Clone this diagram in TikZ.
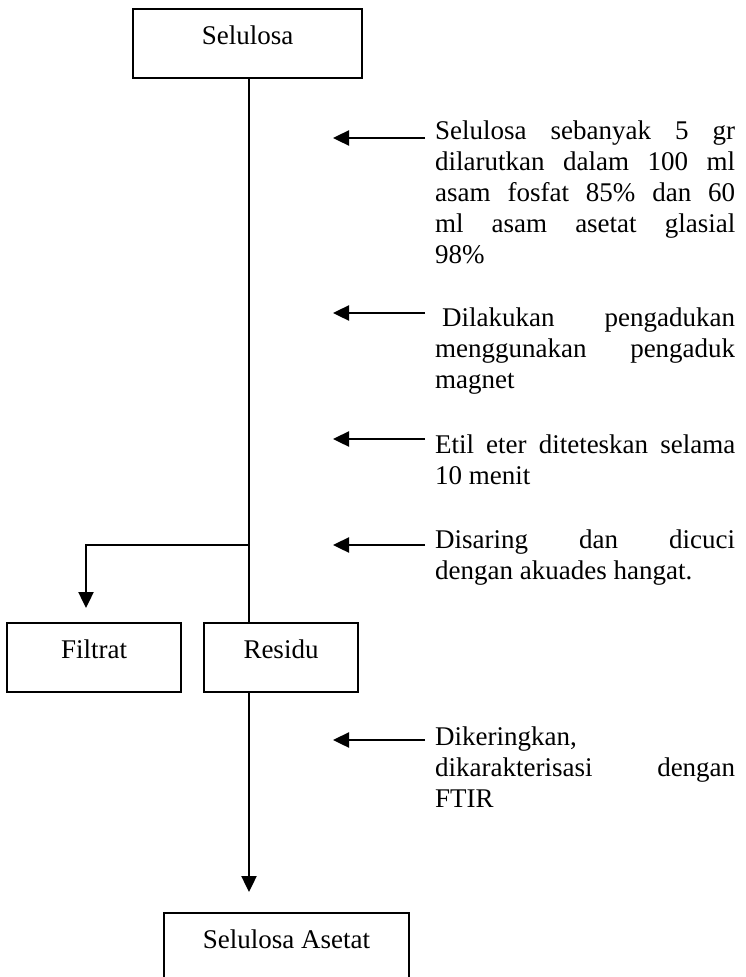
\documentclass[tikz,border=0pt]{standalone}
\usepackage{fontspec}
\setmainfont{Liberation Serif}
\usetikzlibrary{arrows.meta}

\tikzset{
  stage/.style={draw, line width=1.8pt, inner sep=0pt, text height=35pt, text depth=34pt,
    font=\fontsize{27}{31}\selectfont},
  flow/.style={line width=2.4pt},
  flowarrow/.style={flow, -{Triangle[length=16pt,width=15pt]}},
  note/.style={anchor=base west, inner sep=0pt, font=\fontsize{27}{31}\selectfont}
}

\newcommand{\notebox}[1]{\parbox[t]{300pt}{#1}}

\begin{document}
\begin{tikzpicture}[x=1pt,y=-1pt]
  \useasboundingbox (0,0) rectangle (745,977);

  % process boxes
  \node[stage, minimum width=229pt] (sel) at (247.5,43.5) {Selulosa};
  \node[stage, minimum width=174pt] (fil) at (94,657.5) {Filtrat};
  \node[stage, minimum width=154pt] (res) at (281,657.5) {Residu};
  \node[stage, minimum width=245pt] (ace) at (286.5,947.5) {Selulosa Asetat};

  % main flow line and branch to the filtrate
  \coordinate (split) at (249,545);
  \coordinate (ftip) at (86,608);
  \coordinate (rtop) at (249,623);
  \coordinate (rbot) at (249,692);
  \coordinate (atip) at (249,892);
  \draw[flow] (sel.south -| split) -- (rtop);
  \draw[flowarrow] (split) -| (ftip);
  \draw[flowarrow] (rbot) -- (atip);

  % step descriptions
  \node[note] (t1) at (435,139) {\notebox{Selulosa sebanyak 5 gr\linebreak
    dilarutkan dalam 100 ml\linebreak asam fosfat 85\% dan 60\linebreak
    ml asam asetat glasial\linebreak 98\%}};
  \node[note] (t2) at (435,326) {\notebox{\hspace*{7pt}Dilakukan pengadukan\linebreak
    menggunakan pengaduk\linebreak magnet}};
  \node[note] (t3) at (435,453) {\notebox{Etil eter diteteskan selama\linebreak 10 menit}};
  \node[note] (t4) at (435,548) {\notebox{Disaring dan dicuci\linebreak dengan akuades hangat.}};
  \node[note] (t5) at (435,745) {\notebox{Dikeringkan,\newline
    dikarakterisasi dengan\linebreak FTIR}};

  % arrows pointing from each description towards the flow line
  \foreach \i/\y in {1/138, 2/313, 3/439, 4/545, 5/740}{
    \coordinate (s\i) at (425,\y);
    \coordinate (e\i) at (333,\y);
    \draw[flowarrow] (s\i) -- (e\i);
  }
\end{tikzpicture}
\end{document}
